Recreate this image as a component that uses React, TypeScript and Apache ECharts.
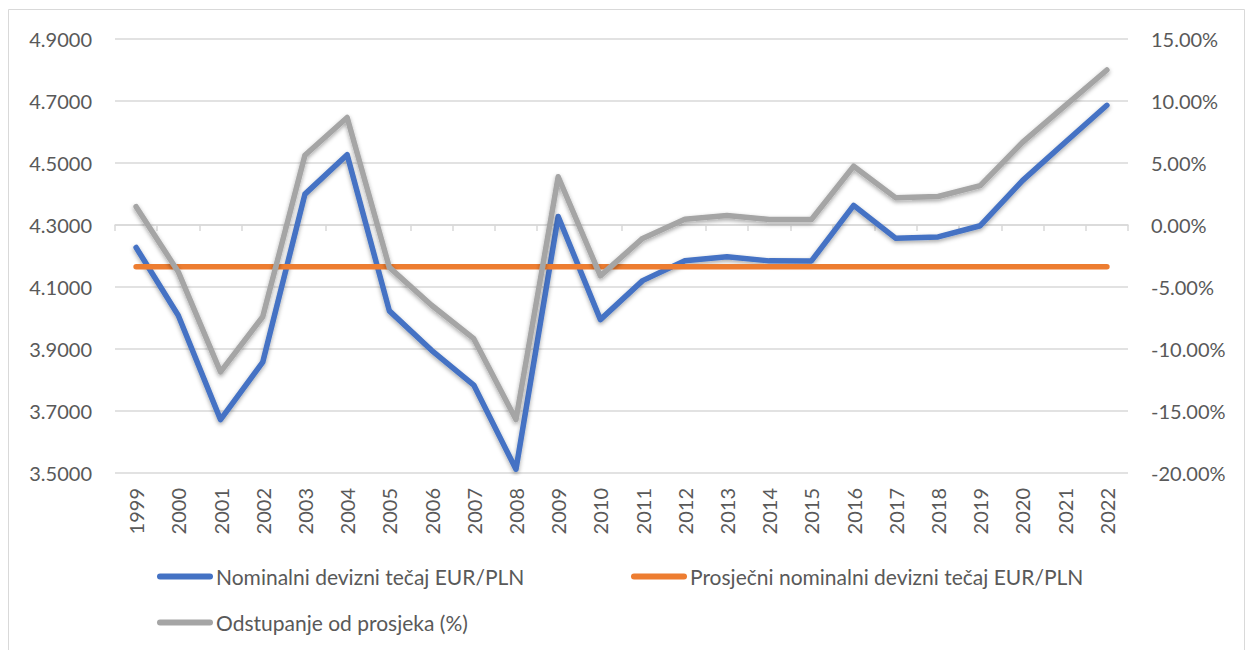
import React, { useEffect, useRef } from "react";
import * as echarts from "echarts";

const years = ["1999","2000","2001","2002","2003","2004","2005","2006","2007","2008","2009","2010","2011","2012","2013","2014","2015","2016","2017","2018","2019","2020","2021","2022"];
const nominal = [4.2274,4.0082,3.6721,3.8574,4.3996,4.5268,4.0230,3.8959,3.7837,3.5121,4.3276,3.9947,4.1206,4.1847,4.1975,4.1843,4.1841,4.3632,4.2570,4.2615,4.2976,4.4430,4.5652,4.6861];
const average = [4.1656,4.1656,4.1656,4.1656,4.1656,4.1656,4.1656,4.1656,4.1656,4.1656,4.1656,4.1656,4.1656,4.1656,4.1656,4.1656,4.1656,4.1656,4.1656,4.1656,4.1656,4.1656,4.1656,4.1656];
const deviation = [1.48,-3.78,-11.85,-7.40,5.62,8.67,-3.42,-6.47,-9.17,-15.69,3.89,-4.10,-1.08,0.46,0.77,0.45,0.44,4.74,2.19,2.30,3.17,6.66,9.59,12.50];

const names = [
  "Nominalni devizni tečaj EUR/PLN",
  "Prosječni nominalni devizni tečaj EUR/PLN",
  "Odstupanje od prosjeka (%)",
];
const colors = ["#4472C4", "#ED7D31", "#A5A5A5"];

const FONT = "Lato";
const TEXT = "#595959";
const GRID = "#D9D9D9";
const capsule = "path://M3,0 L53,0 A3,3 0 0 1 53,6 L3,6 A3,3 0 0 1 3,0 Z";

export default function App() {
  const ref = useRef<HTMLDivElement>(null);
  useEffect(() => {
    if (!ref.current) return;
    const chart = echarts.init(ref.current, undefined, { renderer: "svg" });
    const lineStyle = (c: string, shadow: boolean) => ({
      color: c,
      width: 5.5,
      cap: "round",
      join: "round",
      ...(shadow
        ? { shadowColor: "rgba(0,0,0,0.35)", shadowBlur: 4, shadowOffsetY: 2 }
        : {}),
    });
    const legendBase = {
      icon: capsule,
      itemWidth: 56,
      itemHeight: 6,
      itemGap: 0,
      textStyle: { color: TEXT, fontSize: 21, fontFamily: FONT, padding: [0, 0, 0, -2] },
      padding: 0,
    };
    chart.setOption({
      animation: false,
      textStyle: { fontFamily: FONT },
      graphic: [
        {
          type: "rect",
          shape: { x: 8.5, y: 9.5, width: 1236, height: 700 },
          style: { fill: "none", stroke: GRID, lineWidth: 1 },
          silent: true,
        },
      ],
      grid: { left: 115, right: 118, top: 39, height: 434, containLabel: false },
      legend: [
        { ...legendBase, data: [names[0]], left: 157, top: 566 },
        { ...legendBase, data: [names[1]], left: 631, top: 566 },
        { ...legendBase, data: [names[2]], left: 157, top: 612 },
      ],
      xAxis: {
        type: "category",
        data: years,
        boundaryGap: true,
        axisLine: { lineStyle: { color: GRID, width: 1.5 } },
        axisTick: { show: true, length: 6, lineStyle: { color: GRID, width: 1.5 } },
        axisLabel: { rotate: 90, interval: 0, color: TEXT, fontSize: 20, fontFamily: FONT, margin: 15 },
      },
      yAxis: [
        {
          type: "value",
          min: 3.5,
          max: 4.9,
          interval: 0.2,
          axisLine: { show: false },
          axisTick: { show: false },
          splitLine: { lineStyle: { color: GRID, width: 1.5 } },
          axisLabel: {
            color: TEXT,
            fontSize: 20,
            fontFamily: FONT,
            margin: 23,
            formatter: (v: number) => v.toFixed(4),
          },
        },
        {
          type: "value",
          min: -20,
          max: 15,
          interval: 5,
          axisLine: { show: false },
          axisTick: { show: false },
          splitLine: { show: false },
          axisLabel: {
            color: TEXT,
            fontSize: 20,
            fontFamily: FONT,
            margin: 23,
            formatter: (v: number) => v.toFixed(2) + "%",
          },
        },
      ],
      series: [
        {
          name: names[0],
          type: "line",
          data: nominal,
          yAxisIndex: 0,
          symbol: "none",
          color: colors[0],
          lineStyle: lineStyle(colors[0], true),
          z: 2,
        },
        {
          name: names[1],
          type: "line",
          data: average,
          yAxisIndex: 0,
          symbol: "none",
          color: colors[1],
          lineStyle: lineStyle(colors[1], false),
          z: 3,
        },
        {
          name: names[2],
          type: "line",
          data: deviation,
          yAxisIndex: 1,
          symbol: "none",
          color: colors[2],
          lineStyle: lineStyle(colors[2], true),
          z: 4,
        },
      ],
    });
    return () => chart.dispose();
  }, []);
  return (
    <div
      ref={ref}
      style={{ position: "absolute", left: 0, top: 0, width: 1246, height: 650, background: "#fff" }}
    />
  );
}
